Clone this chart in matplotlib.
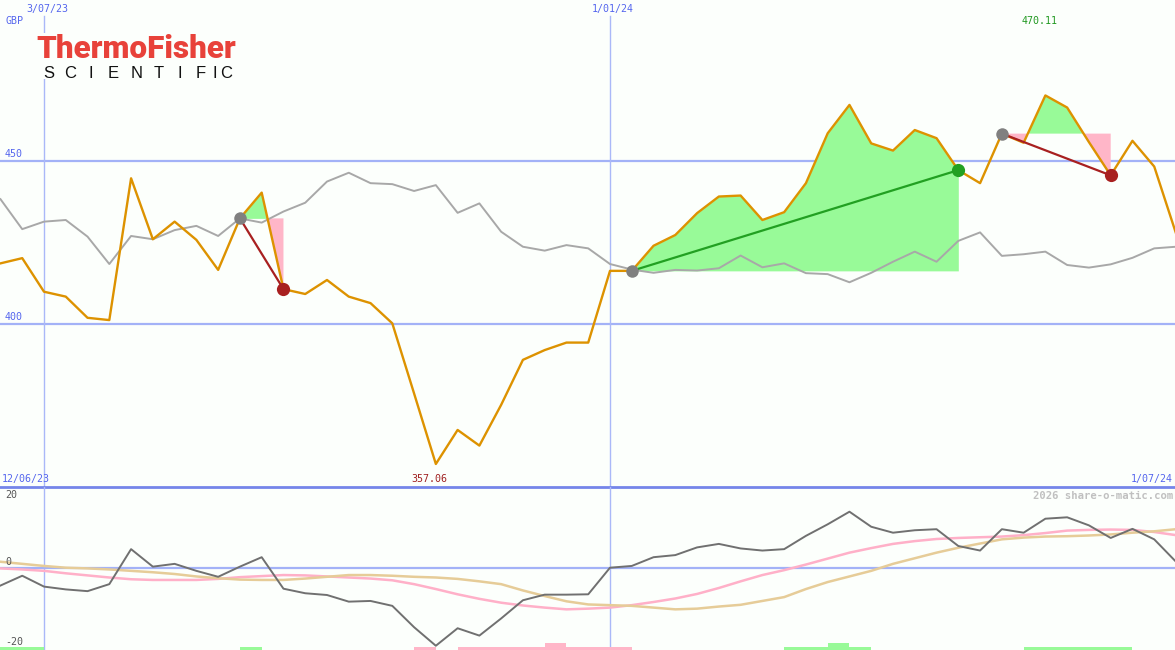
import matplotlib

matplotlib.use("Agg")
import matplotlib.pyplot as plt
import numpy as np
import pandas as pd
from matplotlib.patches import Rectangle
from matplotlib.transforms import blended_transform_factory


W, H = 1175, 650
BG = "#fcfffc"

# weekly closes, first week 19 Jun 2023
START = "2023-06-19"
PRICE = [418.6, 420.2, 409.9, 408.4, 401.9, 401.2, 444.7, 426.0, 431.4, 425.8,
         416.6, 432.4, 440.3, 410.7, 409.2, 413.5, 408.4, 406.4, 400.2, 378.7,
         357.06, 367.5, 362.7, 375.2, 389.0, 392.0, 394.3, 394.3, 416.3, 416.3,
         424.0, 427.3, 434.0, 439.1, 439.4, 431.9, 434.3, 443.2, 458.5, 467.2,
         455.4, 453.2, 459.5, 457.0, 447.2, 443.2, 458.4, 455.6, 470.11, 466.4,
         455.8, 445.6, 456.2, 448.3, 427.8]
# market index rescaled onto the price axis
INDEX_REL = [438.3, 429.1, 431.4, 431.9, 426.8, 418.4, 427.0, 426.0, 428.8, 430.1,
             427.0, 432.4, 431.1, 434.5, 437.2, 443.7, 446.4, 443.2, 442.9, 440.8,
             442.6, 434.1, 437.0, 428.3, 423.7, 422.5, 424.2, 423.2, 418.4, 416.7,
             415.7, 416.6, 416.4, 417.1, 421.0, 417.4, 418.6, 415.6, 415.3, 412.8,
             415.7, 419.1, 422.2, 419.1, 425.5, 428.1, 420.9, 421.4, 422.2, 418.1,
             417.3, 418.3, 420.3, 423.2, 423.7]
MOMENTUM = [-5.1, -2.3, -5.4, -6.2, -6.7, -4.7, 5.3, 0.3, 1.1, -0.9,
            -2.6, 0.3, 3.0, -6.0, -7.3, -7.8, -9.7, -9.5, -10.9, -17.0,
            -22.3, -17.3, -19.4, -14.5, -9.3, -7.7, -7.7, -7.6, 0.0, 0.5,
            3.0, 3.6, 5.8, 6.8, 5.5, 4.9, 5.3, 9.1, 12.4, 16.0,
            11.7, 10.0, 10.7, 11.0, 6.2, 4.9, 11.0, 10.0, 14.0, 14.4,
            12.1, 8.5, 11.1, 8.1, 1.7]
MA_FAST = [-0.2, -0.5, -0.9, -1.6, -2.2, -2.8, -3.3, -3.5, -3.5, -3.5,
           -3.2, -2.7, -2.4, -2.1, -2.2, -2.5, -2.8, -3.1, -3.6, -4.7,
           -6.1, -7.6, -8.9, -10.0, -10.8, -11.4, -11.9, -11.7, -11.4, -10.7,
           -9.8, -8.8, -7.5, -5.8, -3.9, -2.1, -0.7, 0.9, 2.6, 4.3,
           5.6, 6.8, 7.6, 8.2, 8.5, 8.7, 8.9, 9.3, 9.9, 10.6,
           10.8, 10.9, 10.8, 10.2, 9.3]
MA_SLOW = [1.7, 1.1, 0.5, 0.0, -0.2, -0.5, -0.9, -1.3, -1.8, -2.5,
           -3.0, -3.4, -3.5, -3.5, -3.1, -2.6, -2.1, -2.1, -2.3, -2.6,
           -2.8, -3.2, -3.9, -4.7, -6.5, -8.1, -9.6, -10.5, -10.7, -10.9,
           -11.4, -11.9, -11.7, -11.1, -10.6, -9.5, -8.4, -6.1, -4.1, -2.5,
           -0.9, 1.1, 2.7, 4.3, 5.7, 6.9, 8.1, 8.6, 8.9, 9.0,
           9.2, 9.5, 10.0, 10.4, 11.0]
# +1/+2 buy strength, -1/-2 sell strength
SIGNAL = [1, 1, 0, 0, 0, 0, 0, 0, 0, 0,
          0, 1, 0, 0, 0, 0, 0, 0, 0, -1,
          0, -1, -1, -1, -1, -2, -1, -1, -1, 0,
          0, 0, 0, 0, 0, 0, 1, 1, 2, 1,
          0, 0, 0, 0, 0, 0, 0, 1, 1, 1,
          1, 1, 0, 0, 0]

TRADE_ENTRY = ["2023-09-04", "2024-01-08", "2024-05-06"]
TRADE_EXIT = ["2023-09-18", "2024-04-22", "2024-06-10"]

GRID_DATES = ["2023-07-03", "2024-01-01"]
GRID_LABELS = ["3/07/23", "1/01/24"]
PRICE_LEVELS = [400, 450]
RANGE_LABELS = ["12/06/23", "1/07/24"]
MOM_LABELS = ["20", "0", "-20"]

BLUE_TXT = "#5566ee"
GRID = "#a3b2f7"
MONO = "DejaVu Sans Mono"


def px(x, y):
    return x / W, 1 - y / H


def main():
    dates = pd.date_range(START, periods=len(PRICE), freq="7D")
    price = np.array(PRICE)
    idx = np.array(INDEX_REL)

    px_per_day = 566 / 182
    x0 = pd.Timestamp(GRID_DATES[0]) - pd.Timedelta(days=44 / px_per_day)
    x1 = pd.Timestamp(GRID_DATES[1]) + pd.Timedelta(days=565 / px_per_day)

    fig = plt.figure(figsize=(W / 100, H / 100), dpi=100, facecolor=BG)
    ax = fig.add_axes([0, 163 / H, 1, 487 / H], facecolor=BG)
    bx = fig.add_axes([0, 0, 1, 163 / H], facecolor=BG)
    for a in (ax, bx):
        a.set_xlim(x0, x1)
        a.set_axis_off()
    ax.set_ylim(350, 450 + 161 / 3.26)
    bx.set_ylim((567.7 - 650) / 3.5, (567.7 - 487) / 3.5)

    # grid
    for lvl in PRICE_LEVELS:
        ax.axhline(lvl, color=GRID, lw=1.6, zorder=1)
        ax.annotate(str(lvl), xy=(5 / W, lvl), xycoords=blended_transform_factory(ax.transAxes, ax.transData),
                    xytext=(0, 1.5), textcoords="offset points", va="bottom", ha="left",
                    fontsize=7.2, family=MONO, color=BLUE_TXT)
    for d in GRID_DATES:
        ax.axvline(pd.Timestamp(d), ymin=0, ymax=(487 - 16) / 487, color="#aab8f8", lw=1.0, zorder=1)
        bx.axvline(pd.Timestamp(d), color="#aab8f8", lw=1.0, zorder=1)
    ax.axhline(350, color="#7585ea", lw=2.0, zorder=10, clip_on=False)
    bx.axhline(0, color=GRID, lw=1.6, zorder=1)

    tr = blended_transform_factory(ax.transData, ax.transAxes)
    for d, lab in zip(GRID_DATES, GRID_LABELS):
        ax.text(pd.Timestamp(d) + pd.Timedelta(days=1), 1 - 9 / 487, lab, transform=tr, ha="center",
                va="center", fontsize=7.2, family=MONO, color=BLUE_TXT)

    # trades
    for ent, ext in zip(TRADE_ENTRY, TRADE_EXIT):
        ent, ext = pd.Timestamp(ent), pd.Timestamp(ext)
        m = (dates >= ent) & (dates <= ext)
        p0 = price[dates == ent][0]
        p1 = price[dates == ext][0]
        d_m, p_m = dates[m], price[m]
        ax.fill_between(d_m, p_m, p0, where=p_m >= p0, interpolate=True, color="#98fa98", lw=0, zorder=2)
        ax.fill_between(d_m, p_m, p0, where=p_m <= p0, interpolate=True, color="#ffb6c8", lw=0, zorder=2)
        win = p1 > p0
        lc = "#22a022" if win else "#a82020"
        ax.plot([ent, ext], [p0, p1], color=lc, lw=1.6, zorder=5)
        ax.plot([ent], [p0], "o", ms=9, color="#808080", mec="none", zorder=6)
        ax.plot([ext], [p1], "o", ms=9.5, color=lc, mec="none", zorder=6)

    ax.plot(dates, idx, color="#a8a8a8", lw=1.4, zorder=3)
    ax.plot(dates, price, color="#dd9200", lw=1.7, zorder=4)

    imax, imin = int(price.argmax()), int(price.argmin())
    ax.text(dates[imax] - pd.Timedelta(days=2), 1 - 21 / 487, f"{price[imax]:.2f}", transform=tr,
            ha="center", va="center", fontsize=7.2, family=MONO, color="#229922")
    ax.text(dates[imin] - pd.Timedelta(days=2), 8 / 487, f"{price[imin]:.2f}", transform=tr,
            ha="center", va="center", fontsize=7.2, family=MONO, color="#a02020")

    # lower panel
    bx.plot(dates, MA_FAST, color="#ffb0c8", lw=1.8, zorder=2)
    bx.plot(dates, MA_SLOW, color="#e6cc98", lw=1.8, zorder=2)
    bx.plot(dates, MOMENTUM, color="#707070", lw=1.4, zorder=3)
    sig = np.array(SIGNAL)
    ylo = bx.get_ylim()[0]
    for s_sign, col in ((1, "#98fa98"), (-1, "#ffb6c8")):
        m = np.sign(sig) == s_sign
        bx.bar(dates[m], np.abs(sig[m]) * 0.95, width=7, bottom=ylo, align="edge",
               color=col, lw=0, zorder=2)

    # labels
    fig.text(*px(5, 21), "GBP", fontsize=7.2, family=MONO, color=BLUE_TXT, va="center", ha="left")
    fig.text(*px(2, 479), RANGE_LABELS[0], fontsize=7.2, family=MONO, color=BLUE_TXT, va="center", ha="left")
    fig.text(*px(1173, 479), RANGE_LABELS[1], fontsize=7.2, family=MONO, color=BLUE_TXT, va="center", ha="right")
    fig.text(*px(1173, 496), "2026 share-o-matic.com", fontsize=7.6, family=MONO, weight="bold",
             color="#c0c0c0", va="center", ha="right")
    for lab, y in zip(MOM_LABELS, (495.5, 561.7, 641.7)):
        fig.text(*px(5, y), lab, fontsize=7.2, family=MONO, color="#555555", va="center", ha="left")

    # logo
    fig.add_artist(Rectangle(px(34, 79), 202 / W, 46 / H, transform=fig.transFigure,
                             facecolor=BG, edgecolor="none", zorder=2))
    fig.text(*px(36, 58), "ThermoFisher", fontsize=22.6, family=["Roboto", "Liberation Sans"],
             weight="black", color="#e8423a", va="baseline", ha="left", zorder=3)
    for ch, cx in zip("SCIENTIFIC", (49, 70.5, 91, 113, 136.5, 159, 180, 201, 214.5, 226)):
        fig.text(*px(cx, 78), ch, fontsize=12, family="Liberation Sans", color="#111111",
                 va="baseline", ha="center", zorder=3)

    fig.savefig("out.png", dpi=100, facecolor=BG)
    plt.close(fig)


if __name__ == "__main__":
    main()
